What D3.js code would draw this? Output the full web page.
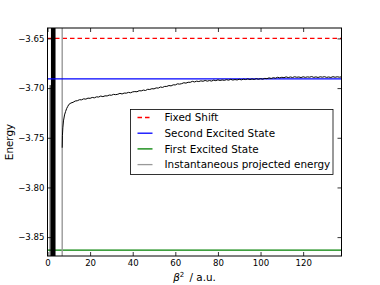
<!DOCTYPE html>
<html><head><meta charset="utf-8">
<script src="https://cdn.jsdelivr.net/npm/d3@7"></script>
<style>
body{margin:0;background:#fff;}
svg{display:block;font-family:"DejaVu Sans",sans-serif;}
</style></head>
<body>
<script>
// ---- data ----
const xDomain = [0, 138];
const yDomain = [-3.869, -3.6395];
const xTicks = [0, 20, 40, 60, 80, 100, 120];
const yTicks = [-3.85, -3.80, -3.75, -3.70, -3.65];
const fixedShift = -3.65;
const secondExcited = -3.6908;
const firstExcited = -3.863;
const grayLineX = 6.9;
// early wild oscillation of the projected energy (goes off-scale)
const earlyX = [1.25, 1.25, 1.85, 1.85, 2.0, 2.0, 2.15, 2.15, 2.3, 2.3, 2.45, 2.45, 2.6, 2.6, 2.75, 2.75, 2.9, 2.9, 3.05, 3.05, 3.2, 3.2, 3.35, 3.35, 3.5, 3.5];
const earlyE = [-3.697, -4.2, -4.2, -3.4, -3.4, -4.2, -4.2, -3.4, -3.4, -4.2, -4.2, -3.4, -3.4, -4.2, -4.2, -3.4, -3.4, -4.2, -4.2, -3.4, -3.4, -4.2, -4.2, -3.4, -3.4, -4.2];
// projected energy after stabilisation
const curveX = [6.9, 7.0, 7.2, 7.5, 8.0, 8.5, 9.0, 9.5, 10, 11, 12, 13, 14, 15, 16, 17, 18, 19, 20, 21, 22, 23, 24, 25, 26, 27, 28, 29, 30, 31, 32, 33, 34, 35, 36, 37, 38, 39, 40, 41, 42, 43, 44, 45, 46, 47, 48, 49, 50, 51, 52, 53, 54, 55, 56, 57, 58, 59, 60, 61, 62, 63, 64, 65, 66, 67, 68, 69, 70, 71, 72, 73, 74, 75, 76, 77, 78, 79, 80, 81, 82, 83, 84, 85, 86, 87, 88, 89, 90, 91, 92, 93, 94, 95, 96, 97, 98, 99, 100, 101, 102, 103, 104, 105, 106, 107, 108, 109, 110, 111, 112, 113, 114, 115, 116, 117, 118, 119, 120, 121, 122, 123, 124, 125, 126, 127, 128, 129, 130, 131, 132, 133, 134, 135, 136, 137, 138];
const curveE = [-3.760, -3.748, -3.740, -3.733, -3.727, -3.7235, -3.7205, -3.7185, -3.7165, -3.7150, -3.7143, -3.7130, -3.7127, -3.7117, -3.7118, -3.7108, -3.7111, -3.7101, -3.7103, -3.7094, -3.7098, -3.7088, -3.7090, -3.7080, -3.7086, -3.7078, -3.7079, -3.7070, -3.7072, -3.7063, -3.7066, -3.7062, -3.7053, -3.7059, -3.7050, -3.7051, -3.7043, -3.7047, -3.7038, -3.7035, -3.7037, -3.7026, -3.7028, -3.7020, -3.7024, -3.7012, -3.7014, -3.7006, -3.7008, -3.6998, -3.7000, -3.6989, -3.6993, -3.6983, -3.6983, -3.6974, -3.6978, -3.6967, -3.6968, -3.6957, -3.6960, -3.6955, -3.6946, -3.6950, -3.6941, -3.6942, -3.6932, -3.6938, -3.6930, -3.6934, -3.6927, -3.6931, -3.6923, -3.6930, -3.6924, -3.6929, -3.6920, -3.6925, -3.6917, -3.6923, -3.6918, -3.6922, -3.6915, -3.6920, -3.6912, -3.6919, -3.6914, -3.6918, -3.6911, -3.6917, -3.6910, -3.6914, -3.6907, -3.6914, -3.6908, -3.6913, -3.6905, -3.6911, -3.6905, -3.6910, -3.6902, -3.6905, -3.6897, -3.6903, -3.6895, -3.6900, -3.6891, -3.6897, -3.6891, -3.6895, -3.6887, -3.6894, -3.6888, -3.6893, -3.6886, -3.6891, -3.6888, -3.6894, -3.6886, -3.6892, -3.6887, -3.6890, -3.6884, -3.6892, -3.6887, -3.6893, -3.6886, -3.6890, -3.6885, -3.6892, -3.6888, -3.6893, -3.6885, -3.6891, -3.6886, -3.6890, -3.6887];
const legendLabels = ["Fixed Shift", "Second Excited State", "First Excited State", "Instantaneous projected energy"];
const legendColors = ["#ff0000", "#0000ff", "#008000", "#999999"];
const legendDash = ["4.5,3", null, null, null];

// ---- layout ----
const W = 380, H = 285;
const L = 47.5, R = 341.5, T = 28, B = 256;

const svg = d3.select("body").append("svg").attr("width", W).attr("height", H);
const x = d3.scaleLinear().domain(xDomain).range([L, R]);
const y = d3.scaleLinear().domain(yDomain).range([B, T]);

svg.append("defs").append("clipPath").attr("id", "clip")
  .append("rect").attr("x", L).attr("y", T).attr("width", R - L).attr("height", B - T);

const g = svg.append("g").attr("clip-path", "url(#clip)");

const line = d3.line().x(d => x(d[0])).y(d => y(d[1]));

// horizontal reference lines
g.append("line").attr("x1", x(xDomain[0])).attr("x2", x(xDomain[1]))
  .attr("y1", y(fixedShift)).attr("y2", y(fixedShift))
  .attr("stroke", "#ff0000").attr("stroke-width", 1.3).attr("stroke-dasharray", "4.5,3");
g.append("line").attr("x1", x(xDomain[0])).attr("x2", x(xDomain[1]))
  .attr("y1", y(firstExcited)).attr("y2", y(firstExcited))
  .attr("stroke", "#008000").attr("stroke-width", 1.3);

// gray vertical line
g.append("line").attr("x1", x(grayLineX)).attr("x2", x(grayLineX))
  .attr("y1", T).attr("y2", B).attr("stroke", "#999999").attr("stroke-width", 1.4);

// early oscillations
g.append("path").datum(earlyX.map((v, i) => [v, earlyE[i]]))
  .attr("d", line).attr("fill", "none").attr("stroke", "#000").attr("stroke-width", 1);

// second excited (drawn before curve so curve overlays)
g.append("line").attr("x1", x(xDomain[0])).attr("x2", x(xDomain[1]))
  .attr("y1", y(secondExcited)).attr("y2", y(secondExcited))
  .attr("stroke", "#0000ff").attr("stroke-width", 1.3);

// projected energy curve
g.append("path").datum(curveX.map((v, i) => [v, curveE[i]]))
  .attr("d", line).attr("fill", "none").attr("stroke", "#000").attr("stroke-width", 1);

// axes (ticks inward)
const fmtY = d => d3.format(".2f")(d).replace("-", "\u2212");
const tickLen = 4;
const axB = svg.append("g").attr("transform", `translate(0,${B})`)
  .call(d3.axisBottom(x).tickValues(xTicks).tickSizeInner(-tickLen).tickSizeOuter(0).tickPadding(4));
const axT = svg.append("g").attr("transform", `translate(0,${T})`)
  .call(d3.axisTop(x).tickValues(xTicks).tickSizeInner(-tickLen).tickSizeOuter(0).tickFormat(""));
const axL = svg.append("g").attr("transform", `translate(${L},0)`)
  .call(d3.axisLeft(y).tickValues(yTicks).tickSizeInner(-tickLen).tickSizeOuter(0).tickPadding(3).tickFormat(fmtY));
const axR = svg.append("g").attr("transform", `translate(${R},0)`)
  .call(d3.axisRight(y).tickValues(yTicks).tickSizeInner(-tickLen).tickSizeOuter(0).tickFormat(""));
[axB, axT, axL, axR].forEach(a => {
  a.select(".domain").remove();
  a.selectAll("line").attr("stroke", "#000").attr("stroke-width", 0.8);
  a.selectAll("text").attr("font-size", 8.6).attr("fill", "#000").attr("font-family", "DejaVu Sans");
});

// frame
svg.append("rect").attr("x", L).attr("y", T).attr("width", R - L).attr("height", B - T)
  .attr("fill", "none").attr("stroke", "#000").attr("stroke-width", 1);

// axis labels
svg.append("text").attr("transform", `translate(13,${(T + B) / 2}) rotate(-90)`)
  .attr("text-anchor", "middle").attr("font-size", 10.4).text("Energy");
const xl = svg.append("text").attr("x", (L + R) / 2).attr("y", 281).attr("text-anchor", "middle").attr("font-size", 10.4);
xl.append("tspan").attr("font-style", "italic").text("\u03B2");
xl.append("tspan").attr("font-size", 7).attr("dy", -4).text("2");
xl.append("tspan").attr("dy", 4).text("\u2002/ a.u.");

// legend
const lg = svg.append("g");
const lx = 130.5, ly = 109.5, lw = 202.5, lh = 65;
lg.append("rect").attr("x", lx).attr("y", ly).attr("width", lw).attr("height", lh)
  .attr("fill", "#fff").attr("stroke", "#000").attr("stroke-width", 0.8);
legendLabels.forEach((lab, i) => {
  const cy = ly + 8 + i * 15.7;
  lg.append("line").attr("x1", lx + 7).attr("x2", lx + 22).attr("y1", cy).attr("y2", cy)
    .attr("stroke", legendColors[i]).attr("stroke-width", 1.3)
    .attr("stroke-dasharray", legendDash[i]);
  lg.append("text").attr("x", lx + 34).attr("y", cy + 3.7).attr("font-size", 10.4).text(lab);
});
</script>
</body></html>
